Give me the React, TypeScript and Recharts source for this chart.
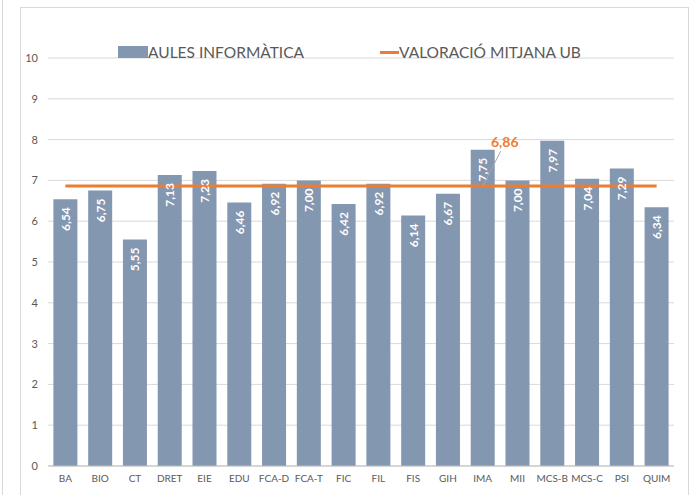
import { ComposedChart, Bar, Line, XAxis, YAxis, CartesianGrid } from 'recharts';

const categories = ['BA', 'BIO', 'CT', 'DRET', 'EIE', 'EDU', 'FCA-D', 'FCA-T', 'FIC', 'FIL', 'FIS', 'GIH', 'IMA', 'MII', 'MCS-B', 'MCS-C', 'PSI', 'QUIM'];
const aulesValues = [6.54, 6.75, 5.55, 7.13, 7.23, 6.46, 6.92, 7.0, 6.42, 6.92, 6.14, 6.67, 7.75, 7.0, 7.97, 7.04, 7.29, 6.34];
const mitjanaValues = categories.map(() => 6.86);
const yTicks = [0, 1, 2, 3, 4, 5, 6, 7, 8, 9, 10];

const BAR_COLOR = '#8497B0';
const LINE_COLOR = '#ED7D31';
const TEXT_COLOR = '#595959';
const FONT = 'Lato, "Liberation Sans", sans-serif';

const data = categories.map((name, i) => ({
  name,
  aules: aulesValues[i],
  mitjana: mitjanaValues[i],
}));

const fmt = (v: number) => v.toFixed(2).replace('.', ',');

function BarLabel(props: any) {
  const { x, y, width, value } = props;
  const cx = x + width / 2;
  const ty = y + 8;
  return (
    <text
      x={cx}
      y={ty}
      transform={`rotate(-90 ${cx} ${ty})`}
      textAnchor="end"
      dominantBaseline="central"
      fill="#fff"
      fontSize={12}
      fontWeight={700}
      fontFamily={FONT}
    >
      {fmt(value)}
    </text>
  );
}

function LineLabel(props: any) {
  const { x, y, value, index } = props;
  if (index !== 12) return null;
  return (
    <g>
      <line x1={x + 18} y1={y - 35} x2={x} y2={y} stroke="#a6a6a6" strokeWidth={1} />
      <text
        x={x + 22}
        y={y - 45}
        textAnchor="middle"
        dominantBaseline="central"
        fill={LINE_COLOR}
        fontSize={14}
        fontWeight={700}
        fontFamily={FONT}
      >
        {fmt(value)}
      </text>
    </g>
  );
}

function ChartLegend() {
  return (
    <div style={{ position: 'absolute', left: 0, top: 43, width: 700, height: 20, fontFamily: FONT, fontSize: 15.5, color: TEXT_COLOR }}>
      <div style={{ position: 'absolute', left: 118, top: 3, width: 30, height: 12, background: BAR_COLOR }} />
      <div style={{ position: 'absolute', left: 148, top: 0, lineHeight: '18px', whiteSpace: 'nowrap' }}>AULES INFORMÀTICA</div>
      <div style={{ position: 'absolute', left: 380, top: 8, width: 19, height: 3, background: LINE_COLOR }} />
      <div style={{ position: 'absolute', left: 399, top: 0, lineHeight: '18px', whiteSpace: 'nowrap' }}>VALORACIÓ MITJANA UB</div>
    </div>
  );
}

export default function App() {
  return (
    <div style={{ position: 'absolute', left: 0, top: 0, width: 700, height: 495, background: '#fff', overflow: 'hidden' }}>
      <div style={{ position: 'absolute', left: 2, top: 0, width: 1, height: 495, background: '#d9d9d9' }} />
      <div style={{ position: 'absolute', left: 20, top: 7, width: 669, height: 492, border: '1px solid #d9d9d9', boxSizing: 'border-box' }} />
      <div style={{ position: 'absolute', left: 0, top: 0 }}>
        <ComposedChart width={700} height={495} data={data} margin={{ top: 58, right: 26, bottom: 0, left: 8 }} barCategoryGap="15.5%">
          <CartesianGrid vertical={false} stroke="#d9d9d9" />
          <XAxis
            dataKey="name"
            height={29}
            axisLine={{ stroke: '#bfbfbf' }}
            tickLine={false}
            tick={{ fill: TEXT_COLOR, fontSize: 10, fontFamily: FONT }}
            tickMargin={3}
            interval={0}
          />
          <YAxis
            width={40}
            domain={[0, 10]}
            ticks={yTicks}
            axisLine={false}
            tickLine={false}
            tick={{ fill: TEXT_COLOR, fontSize: 11, fontFamily: FONT }}
            tickMargin={4}
          />
          <Bar dataKey="aules" fill={BAR_COLOR} isAnimationActive={false} label={<BarLabel />} />
          <Line
            dataKey="mitjana"
            stroke={LINE_COLOR}
            strokeWidth={3}
            dot={false}
            activeDot={false}
            isAnimationActive={false}
            label={<LineLabel />}
          />
        </ComposedChart>
      </div>
      <ChartLegend />
    </div>
  );
}
